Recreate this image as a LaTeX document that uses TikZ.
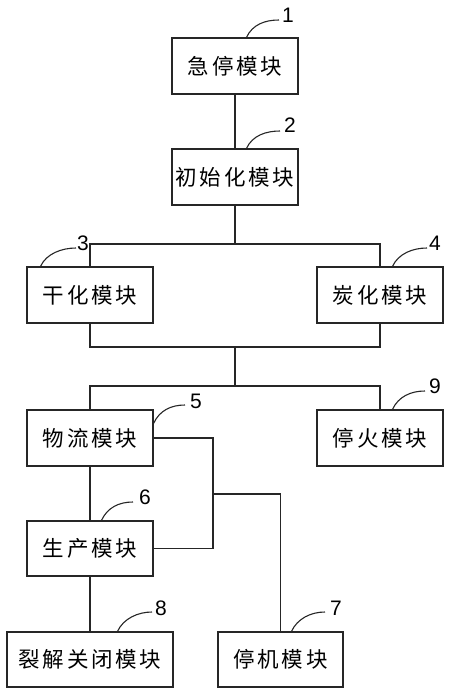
\documentclass[tikz,border=0pt]{standalone}
\usepackage{fontspec}
\setmainfont{Liberation Sans}
\newfontfamily\cjk{Noto Sans CJK SC}[LetterSpace=13]
\usetikzlibrary{calc}
\tikzset{
  box/.style={draw=black!85, line width=1.1pt, minimum width=126pt, minimum height=56pt, inner sep=0pt, font=\cjk\fontsize{21.5pt}{24pt}\selectfont},
  num/.style={anchor=south west, inner sep=0pt, font=\fontsize{21pt}{24pt}\selectfont},
  wire/.style={draw=black!85, line width=1.1pt},
  leader/.style={draw=black!85, line width=1.1pt}
}
\begin{document}
\begin{tikzpicture}[x=1pt,y=-1pt]
\useasboundingbox (0,0) rectangle (450,694);
% boxes
\node[box] (b1) at (235,66) {急停模块};
\node[box] (b2) at (235,177) {初始化模块};
\node[box] (b3) at (90,295) {干化模块};
\node[box] (b4) at (380,295) {炭化模块};
\node[box] (b5) at (90,438) {物流模块};
\node[box] (b9) at (380,438) {停火模块};
\node[box, minimum height=55pt] (b6) at (90,548.5) {生产模块};
\node[box, minimum height=55pt, minimum width=166pt] (b8) at (90,659.5) {裂解关闭模块};
\node[box, minimum height=55pt, minimum width=125pt] (b7) at (280.5,659.5) {停机模块};
% junctions
\coordinate (j1) at (235,244);
\coordinate (j2) at (235,347);
\coordinate (j3) at (235,386);
\coordinate (k) at (213,494);
% connectors
\draw[wire] (b1.south) -- (b2.north);
\draw[wire] (b2.south) -- (j1);
\draw[wire] (b3.north) |- (j1) -| (b4.north);
\draw[wire] (b3.south) |- (j2) -| (b4.south);
\draw[wire] (j2) -- (j3);
\draw[wire] (b5.north) |- (j3) -| (b9.north);
\draw[wire] (b5.south) -- (b6.north);
\draw[wire] (b6.south) -- (b8.north);
\draw[wire] (b5.east) -| (k) |- (b6.east);
\draw[wire] (k) -| (b7.north);
% numbers
\node[num] (n1) at (282,23) {1};
\node[num] (n2) at (284,133) {2};
\node[num] (n3) at (77,251) {3};
\node[num] (n4) at (429,251) {4};
\node[num] (n5) at (190,409) {5};
\node[num] (n9) at (429,394) {9};
\node[num] (n6) at (139,505) {6};
\node[num] (n8) at (155,616) {8};
\node[num] (n7) at (330,616) {7};
% leaders
\draw[leader] ($(b1.north west)+(75,0)$) .. controls +(6,-13) and +(-14,0) .. ($(n1.south west)+(-3,-3)$);
\draw[leader] ($(b2.north west)+(75,0)$) .. controls +(6,-13) and +(-14,0) .. ($(n2.south west)+(-4,-2)$);
\draw[leader] ($(b3.north west)+(14,0)$) .. controls +(6,-13) and +(-14,0) .. ($(n3.south west)+(-1,-3)$);
\draw[leader] ($(b4.north west)+(76,0)$) .. controls +(6,-13) and +(-14,0) .. ($(n4.south west)+(-2,-3)$);
\draw[leader] ($(b5.north east)+(0,14)$) .. controls +(6,-13) and +(-14,0) .. ($(n5.south west)+(-5,-4)$);
\draw[leader] ($(b9.north west)+(76,0)$) .. controls +(6,-13) and +(-14,0) .. ($(n9.south west)+(-4,-3)$);
\draw[leader] ($(b6.north west)+(75,0)$) .. controls +(6,-13) and +(-14,0) .. ($(n6.south west)+(-6,-3)$);
\draw[leader] ($(b8.north west)+(111,0)$) .. controls +(6,-13) and +(-14,0) .. ($(n8.south west)+(-3,-4)$);
\draw[leader] ($(b7.north west)+(74,0)$) .. controls +(6,-13) and +(-14,0) .. ($(n7.south west)+(-5,-4)$);
\end{tikzpicture}
\end{document}
